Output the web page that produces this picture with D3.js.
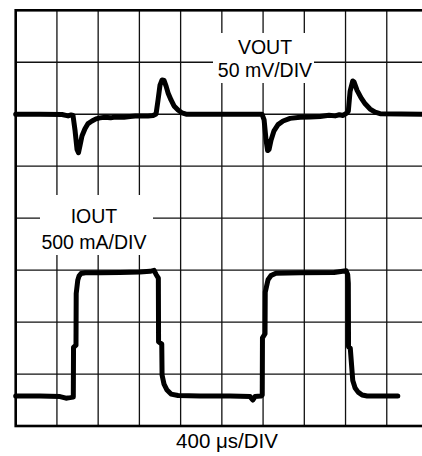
<!DOCTYPE html>
<html>
<head>
<meta charset="utf-8">
<script src="https://cdn.jsdelivr.net/npm/d3@7"></script>
<style>
  body { margin: 0; background: #fff; }
  svg { display: block; }
  text { font-family: "Liberation Sans", Arial, sans-serif; font-size: 19.5px; fill: #000; }
</style>
</head>
<body>
<div class="container"></div>
<script>
const w = 422
const h = 456
const plotLeft = 15.7
const plotRight = 428
const plotTop = 10.3
const plotBottom = 426

// time in µs, 400 µs/div
const timeTicks = [0, 400, 800, 1200, 1600, 2000, 2400, 2800, 3200, 3600, 4000]

// VOUT deviation in mV (50 mV/div)
const voutT = [0, 236, 449, 508, 537, 556, 575, 595, 609, 624, 643, 672, 702, 740, 779, 818, 867, 920, 964, 1050, 1109, 1160, 1206, 1284, 1333, 1362, 1381, 1400, 1420, 1439, 1459, 1478, 1507, 1536, 1575, 1614, 1653, 1788, 2080, 2390, 2410, 2429, 2444, 2458, 2477, 2506, 2545, 2594, 2662, 2759, 2856, 2953, 3040, 3098, 3140, 3176, 3215, 3227, 3244, 3270, 3283, 3312, 3351, 3390, 3438, 3487, 3535, 4000]
const voutMv = [0, 0, -0.3, -1.6, -0.7, -1.2, -15, -34, -37, -30, -21, -14, -9, -6.5, -4.5, -3.5, -3, -3.5, -2.6, -3, -2.1, -1.8, -1.6, -1.6, -1.2, 0.3, 13.7, 28, 33, 32.5, 27, 20.5, 13.7, 8, 4, 1.2, 0, 0, 0, 0, -5.5, -25, -35, -34, -25, -16, -10, -6.5, -4, -3, -2.6, -2.1, -1, -1.6, -0.5, -1.2, 1.2, 3, 22, 32, 31, 23, 15.7, 10, 5, 2, 0.5, 0]
const voutTicks = [-300, -250, -200, -150, -100, -50, 0, 50, 100]

// IOUT in mA (500 mA/div)
const ioutT = [0, 236, 430, 488, 527, 559, 561, 585, 587, 602, 614, 634, 676, 818, 1012, 1206, 1303, 1342, 1362, 1384, 1386, 1417, 1420, 1439, 1468, 1507, 1575, 1788, 2080, 2274, 2300, 2322, 2380, 2392, 2394, 2419, 2421, 2448, 2477, 2525, 2759, 3088, 3205, 3221, 3227, 3229, 3246, 3270, 3293, 3322, 3361, 3410, 3536, 3707]
const ioutMa = [0, 0, -5, -20, -15, -10, 468, 490, 987, 1115, 1154, 1180, 1187, 1187, 1190, 1195, 1200, 1210, 1170, 1135, 522, 500, 202, 115, 58, 19, 5, 0, 0, -5, -38, -5, 0, 10, 560, 600, 1000, 1120, 1160, 1183, 1187, 1190, 1205, 1170, 1087, 474, 460, 150, 77, 38, 10, 0, 0, 0]

const voutData = voutT.map((t, i) => ({t: t, v: voutMv[i]}))
const ioutData = ioutT.map((t, i) => ({t: t, v: ioutMa[i]}))

const svg = d3.select(".container")
              .append("svg")
              .attr("width", w)
              .attr("height", h)

const xScale = d3.scaleLinear()
                 .domain([0, 4000])
                 .range([plotLeft, plotRight])

// VOUT zero sits on the 6th division, IOUT zero just above the bottom edge
const yV = d3.scaleLinear()
             .domain([-300, 100])
             .range([plotBottom, plotTop])

const yI = d3.scaleLinear()
             .domain([-288, 3712])
             .range([plotBottom, plotTop])

// grid
svg.append("g")
    .selectAll("line")
    .data(timeTicks)
    .enter()
    .append("line")
      .attr("x1", d => xScale(d))
      .attr("x2", d => xScale(d))
      .attr("y1", plotTop)
      .attr("y2", plotBottom)
      .attr("stroke", "#111")
      .attr("stroke-width", 1.3)

svg.append("g")
    .selectAll("line")
    .data(voutTicks)
    .enter()
    .append("line")
      .attr("x1", plotLeft)
      .attr("x2", plotRight)
      .attr("y1", d => yV(d))
      .attr("y2", d => yV(d))
      .attr("stroke", "#111")
      .attr("stroke-width", 1.3)

svg.append("rect")
    .attr("x", plotLeft)
    .attr("y", plotTop)
    .attr("width", plotRight - plotLeft)
    .attr("height", plotBottom - plotTop)
    .attr("fill", "none")
    .attr("stroke", "#000")
    .attr("stroke-width", 2.6)

// label boxes
const labels = [
  {box: [213, 33, 101, 50], x: 265, lines: ["VOUT", "50 mV/DIV"], y: [53.5, 76.5]},
  {box: [40, 195, 113, 60], x: 94, lines: ["IOUT", "500 mA/DIV"], y: [222.5, 248.5]}
]

labels.forEach(l => {
  svg.append("rect")
      .attr("x", l.box[0])
      .attr("y", l.box[1])
      .attr("width", l.box[2])
      .attr("height", l.box[3])
      .attr("fill", "#fff")
  l.lines.forEach((s, i) => {
    svg.append("text")
        .attr("x", l.x)
        .attr("y", l.y[i])
        .attr("text-anchor", "middle")
        .text(s)
  })
})

svg.append("text")
    .attr("x", 227)
    .attr("y", 448)
    .attr("text-anchor", "middle")
    .style("font-size", "20.5px")
    .text("400 \u03bcs/DIV")

// traces
const voutLine = d3.line()
                   .x(d => xScale(d.t))
                   .y(d => yV(d.v))

const ioutLine = d3.line()
                   .x(d => xScale(d.t))
                   .y(d => yI(d.v))

svg.append("path")
    .datum(voutData)
    .attr("d", voutLine)
    .attr("fill", "none")
    .attr("stroke", "#000")
    .attr("stroke-width", 5)
    .attr("stroke-linejoin", "round")
    .attr("stroke-linecap", "round")

svg.append("path")
    .datum(ioutData)
    .attr("d", ioutLine)
    .attr("fill", "none")
    .attr("stroke", "#000")
    .attr("stroke-width", 5)
    .attr("stroke-linejoin", "round")
    .attr("stroke-linecap", "round")
</script>
</body>
</html>
